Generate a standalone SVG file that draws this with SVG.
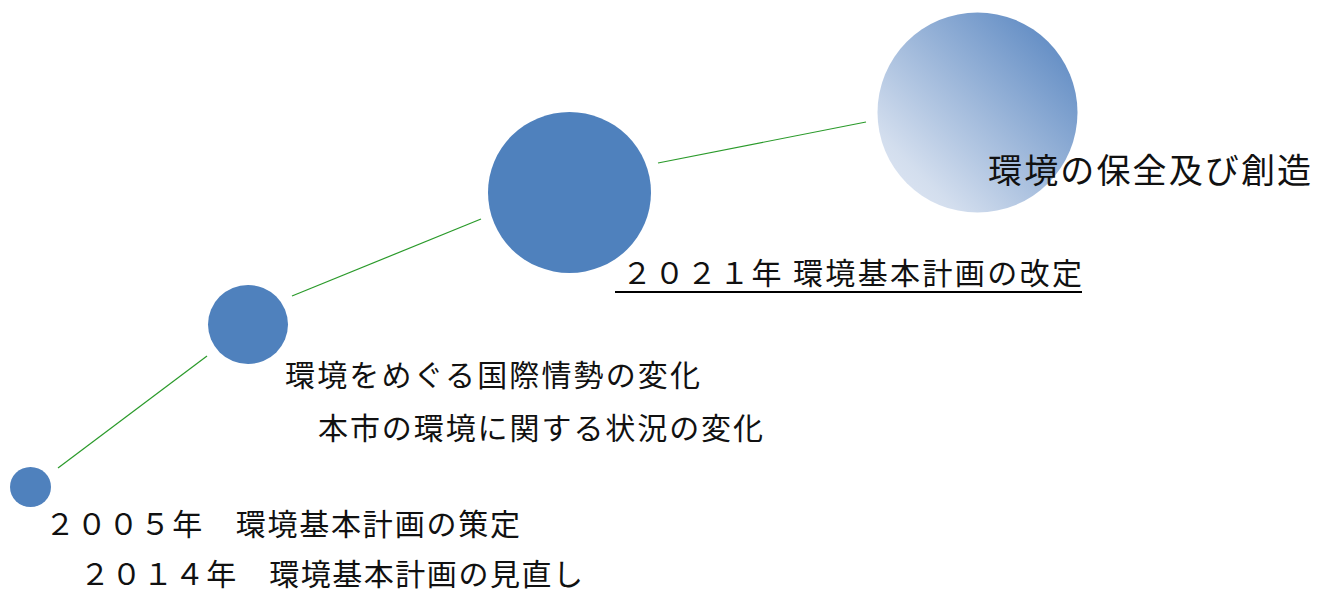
<svg xmlns="http://www.w3.org/2000/svg" width="1330" height="595" viewBox="0 0 1330 595">
<style>
.dot{fill:#4f81bd}
.conn{stroke:#2a9a2a;stroke-width:1.2;fill:none}
.t{font-family:"Noto Sans CJK JP","Noto Sans CJK SC",sans-serif;font-size:30px;fill:#111}
.big{font-size:34px}
</style>
<defs>
<linearGradient id="g1" x1="0" y1="1" x2="1" y2="0">
<stop offset="0" stop-color="#e3eaf5"/>
<stop offset="0.2" stop-color="#d3deee"/>
<stop offset="1" stop-color="#4f7fbd"/>
</linearGradient>
</defs>
<rect width="1330" height="595" fill="#fff"/>
<g id="connectors">
<line class="conn" x1="58" y1="468" x2="207" y2="356"/>
<line class="conn" x1="292" y1="296" x2="481" y2="219"/>
<line class="conn" x1="658" y1="163" x2="866" y2="122"/>
</g>
<g id="node-2005">
<ellipse class="dot" cx="30.5" cy="487" rx="20.5" ry="20"/>
<text class="t" x="45" y="535" textLength="475" lengthAdjust="spacing">２００５年　環境基本計画の策定</text>
<text class="t" x="80" y="585" font-size="29" textLength="503" lengthAdjust="spacing">２０１４年　環境基本計画の見直し</text>
</g>
<g id="node-change">
<ellipse class="dot" cx="248" cy="324.5" rx="40" ry="39.5"/>
<text class="t" x="285" y="386" textLength="415" lengthAdjust="spacing">環境をめぐる国際情勢の変化</text>
<text class="t" x="318" y="439" textLength="445" lengthAdjust="spacing">本市の環境に関する状況の変化</text>
</g>
<g id="node-2021">
<ellipse class="dot" cx="569.5" cy="192.5" rx="81.5" ry="80.5"/>
<text class="t" x="622" y="284" textLength="460" lengthAdjust="spacing">２０２１年 環境基本計画の改定</text>
<line x1="615" y1="292" x2="1082" y2="292" stroke="#000" stroke-width="2"/>
</g>
<g id="node-goal">
<circle cx="977.5" cy="112.5" r="100" fill="url(#g1)"/>
<text class="t big" x="988" y="183" textLength="323" lengthAdjust="spacing">環境の保全及び創造</text>
</g>
</svg>
